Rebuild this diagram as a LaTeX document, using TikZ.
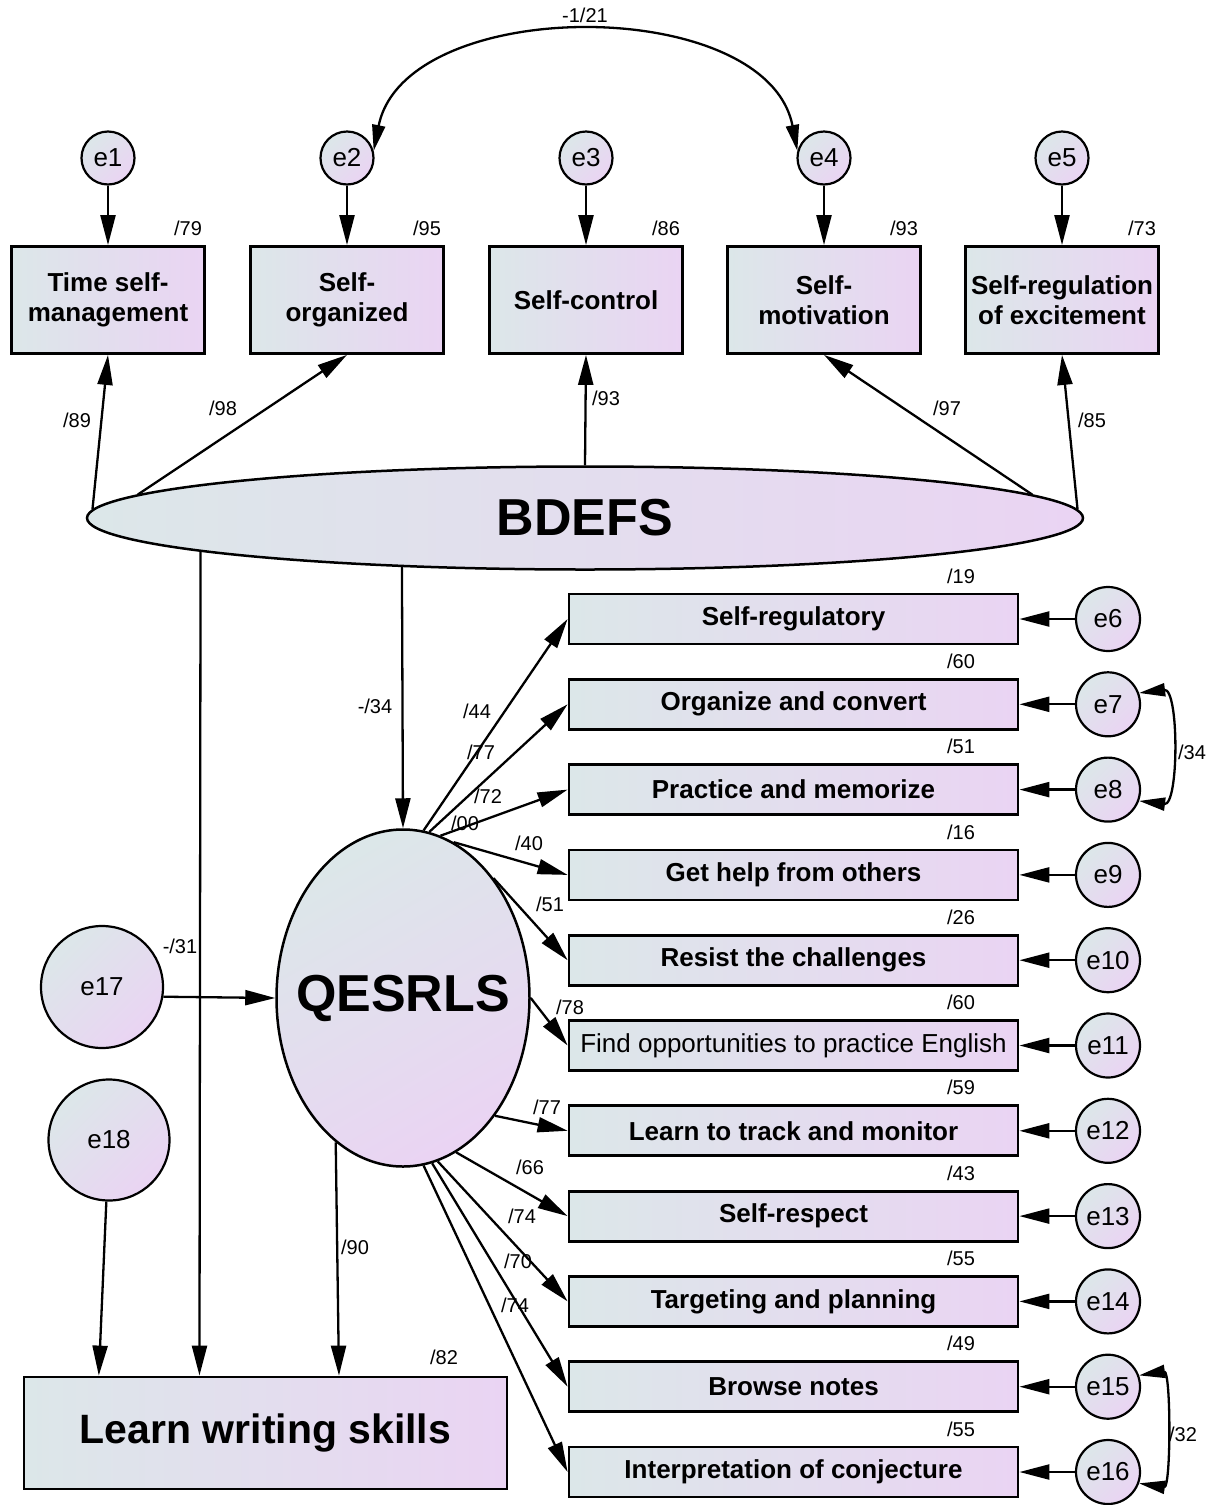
\documentclass[tikz,border=0pt]{standalone}
\usepackage{fontspec}
\setmainfont{Liberation Sans}
\usetikzlibrary{arrows.meta,shapes.geometric}
\definecolor{boxleft}{RGB}{220,231,233}
\definecolor{boxright}{RGB}{234,212,243}
\tikzset{
	obsbox/.style={draw, line width=2.8pt, left color=boxleft, right color=boxright, inner sep=0pt, align=center},
	errnode/.style={draw, ellipse, line width=2.2pt, top color=boxleft, bottom color=boxright, shading angle=45, inner sep=0pt, font=\fontsize{26}{30}\selectfont},
	latnode/.style={draw, ellipse, line width=2.5pt, inner sep=0pt, font=\fontsize{52}{60}\selectfont\bfseries},
	arr/.style={line width=2.3pt, -{Triangle[length=30pt,width=15pt]}},
	cov/.style={line width=2.3pt, {Triangle[length=26pt,width=13pt]}-{Triangle[length=26pt,width=13pt]}},
	lbl/.style={font=\fontsize{20}{24}\selectfont, inner sep=0pt}
}
\begin{document}
\begin{tikzpicture}[x=1pt, y=-1pt, line join=miter]
	\useasboundingbox (0,0) rectangle (1208,1505);
	
	% BDEFS
	\node[latnode, left color=boxleft, right color=boxright, minimum width=996, minimum height=103] (bdefs) at (585,518) {BDEFS};
	\foreach \i/\x/\txt/\val in {1/108/{Time self-\\management}/79, 2/347/{Self-\\organized}/95, 3/586/Self-control/86, 4/824/{Self-\\motivation}/93, 5/1062/{Self-regulation\\of excitement}/73}{
		\node[obsbox, minimum width=193, minimum height=107, font=\fontsize{26}{30}\selectfont\bfseries] (t\i) at (\x,300) {\txt};
		\node[errnode, minimum size=53] (e\i) at (\x,158) {e\i};
		\draw[arr] (e\i) -- (t\i);
		\node[lbl] at (\x+80,228) {/\val};
	}
	\draw[arr] (bdefs.179) -- (t1.south);
	\draw[arr] (bdefs.177) -- (t2.south);
	\draw[arr] (bdefs.north) -- (t3.south);
	\draw[arr] (bdefs.3) -- (t4.south);
	\draw[arr] (bdefs.1) -- (t5.south);
	\node[lbl] at (77,420) {/89};
	\node[lbl] at (223,408) {/98};
	\node[lbl] at (606,398) {/93};
	\node[lbl] at (947,408) {/97};
	\node[lbl] at (1092,420) {/85};
	\draw[cov] (e2.15) .. controls (405,-6) and (767,-6) .. (e4.165);
	\node[lbl] at (585,15) {-1/21};
	
	% QESRLS
	\node[latnode, top color=boxleft, bottom color=boxright, shading angle=30, inner xsep=-19pt, minimum width=253, minimum height=337] (qesrls) at (403,998) {QESRLS};
	\foreach \i/\txt/\val/\wt in {1/Self-regulatory/19/\bfseries, 2/Organize and convert/60/\bfseries, 3/Practice and memorize/51/\bfseries, 4/Get help from others/16/\bfseries, 5/Resist the challenges/26/\bfseries, 6/Find opportunities to practice English/60/\mdseries, 7/Learn to track and monitor/59/\bfseries, 8/Self-respect/43/\bfseries, 9/Targeting and planning/55/\bfseries, 10/Browse notes/49/\bfseries, 11/Interpretation of conjecture/55/\bfseries}{
		\pgfmathtruncatemacro{\k}{\i+5}
		\node[obsbox, minimum width=449, minimum height=50, font=\fontsize{26}{30}\selectfont\wt] (r\i) at (793.5,{619+85.3*(\i-1)}) {\txt};
		\node[errnode, minimum size=64] (e\k) at (1108,{619+85.3*(\i-1)}) {e\k};
		\draw[arr] (e\k) -- (r\i);
		\node[lbl] at (961,{576+85.3*(\i-1)}) {/\val};
	}
	\foreach \i/\a in {1/83, 2/81, 3/77, 4/72, 5/53, 6/0, 7/-52, 8/-71, 9/-78, 10/-80, 11/-83}
		\draw[arr] (qesrls.\a) -- (r\i.west);
	\foreach \x/\y/\lab in {477/711/44, 481/752/77, 488/796/72, 465/823/00, 529/843/40, 550/904/51, 570/1007/78, 547/1107/77, 530/1167/66, 522/1216/74, 518/1261/70, 515/1305/74}
		\node[lbl] at (\x,\y) {/\lab};
	\draw[cov] (e7.20) .. controls +(40,-5) and +(40,5) .. (e8.-20);
	\node[lbl] at (1192,752) {/34};
	\draw[cov] (e15.20) .. controls +(32,-5) and +(32,5) .. (e16.-20);
	\node[lbl] at (1183,1434) {/32};
	\draw[arr] (bdefs.195) -- (qesrls.north);
	\node[lbl] at (375,706) {-/34};
	
	% Learn writing skills
	\node[obsbox, minimum width=483, minimum height=112, font=\fontsize{41}{48}\selectfont\bfseries] (lws) at (265.5,1433) {Learn writing skills};
	\node[errnode, minimum size=122] (e17) at (102,987) {e17};
	\node[errnode, minimum size=121] (e18) at (109,1140) {e18};
	\draw[arr] (e17.-9) -- (qesrls.west);
	\draw[arr] (e18) -- (lws.161);
	\draw[arr] (bdefs.185) -- (lws.139);
	\draw[arr] (qesrls.245) -- (lws.38);
	\node[lbl] at (180,946) {-/31};
	\node[lbl] at (355,1247) {/90};
	\node[lbl] at (444,1357) {/82};
\end{tikzpicture}
\end{document}
